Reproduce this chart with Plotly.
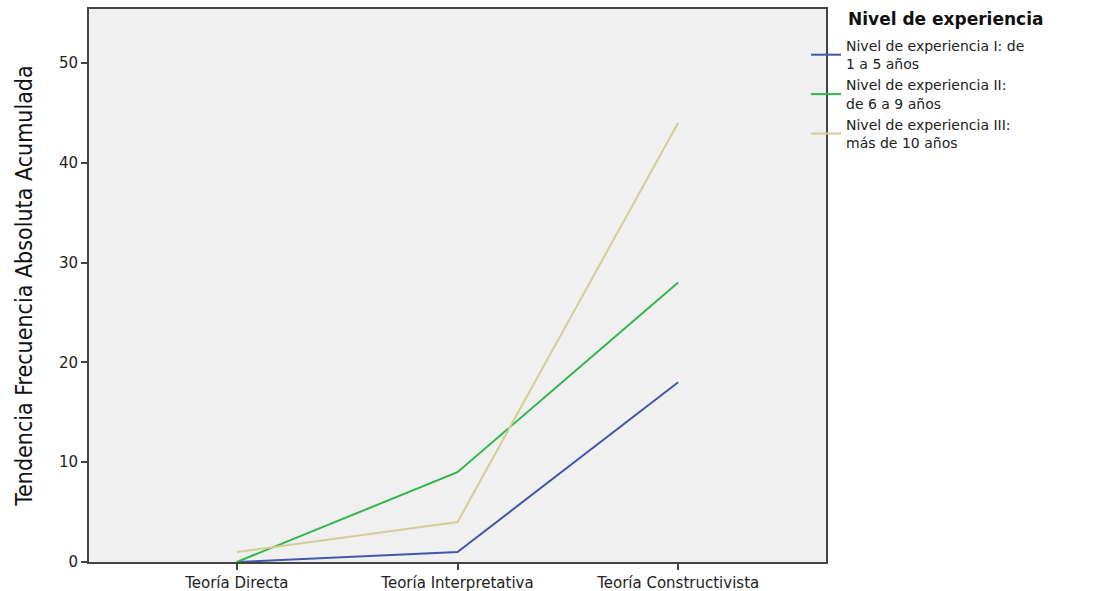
import plotly.graph_objects as go

categories = ["Teoría Directa", "Teoría Interpretativa", "Teoría Constructivista"]
series_names = [
    "Nivel de experiencia I: de<br>1 a 5 años",
    "Nivel de experiencia II:<br>de 6 a 9 años",
    "Nivel de experiencia III:<br>más de 10 años",
]
nivel_1 = [0, 1, 18]
nivel_2 = [0, 9, 28]
nivel_3 = [1, 4, 44]
colors = ["#3E58AC", "#2EB848", "#D3CE97"]
y_ticks = [0, 10, 20, 30, 40, 50]

W, H = 1093, 591
L = 89
T = 9
R = W - 826
B = H - 562
PW, PH = W - L - R, H - T - B


def px_x(page_x):
    return (page_x - L) / PW


def px_y(page_y):
    return 1 - (page_y - T) / PH


fig = go.Figure()
for name, vals, col in zip(series_names, [nivel_1, nivel_2, nivel_3], colors):
    fig.add_trace(go.Scatter(
        x=list(range(len(categories))), y=vals, mode="lines", name=name,
        line=dict(color=col, width=2),
    ))

axis_common = dict(
    showline=True, linecolor="#444444", linewidth=2, mirror=True,
    ticks="outside", ticklen=6, tickwidth=2, tickcolor="#444444",
    showgrid=False, zeroline=False,
    tickfont=dict(family="DejaVu Sans", size=15, color="#222222"),
)

fig.update_layout(
    width=W, height=H,
    margin=dict(l=L, r=R, t=T, b=B, autoexpand=False),
    paper_bgcolor="white", plot_bgcolor="#F0F0F0",
    xaxis=dict(
        tickmode="array", tickvals=list(range(len(categories))), ticktext=categories,
        range=[-0.67, 2.67], **axis_common,
    ),
    yaxis=dict(
        range=[0, 55.4], tickmode="array", tickvals=y_ticks,
        title=dict(text="Tendencia Frecuencia Absoluta Acumulada",
                   font=dict(family="DejaVu Sans Condensed, Liberation Sans Narrow, Liberation Sans",
                             size=23, color="#111111"),
                   standoff=20),
        **axis_common,
    ),
    legend=dict(
        x=px_x(806), y=px_y(30), xanchor="left", yanchor="top",
        bgcolor="rgba(0,0,0,0)", font=dict(family="DejaVu Sans", size=14, color="#222222"),
        tracegroupgap=0, itemwidth=30,
    ),
    showlegend=True,
)
fig.add_annotation(
    text="<b>Nivel de experiencia</b>",
    x=px_x(846), y=px_y(19),
    xref="paper", yref="paper", xanchor="left", yanchor="middle",
    showarrow=False, font=dict(family="DejaVu Sans", size=17, color="#111111"),
)

fig.write_html(
    "out.html",
    config={"displayModeBar": False},
    post_script="document.body.style.margin='0';document.body.style.overflow='hidden';",
)
